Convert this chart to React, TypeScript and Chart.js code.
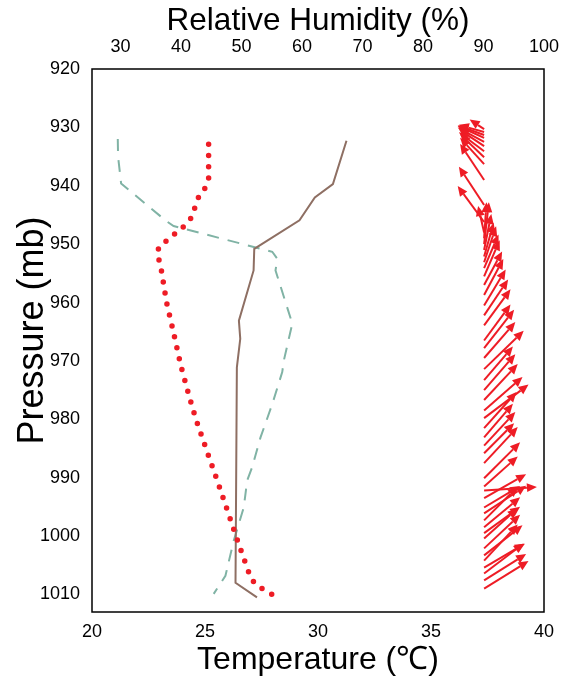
import React, { useEffect, useRef } from 'react';
import { Chart, registerables } from 'chart.js';

Chart.register(...registerables);

// Axis ticks
const pressureTicks = [920, 930, 940, 950, 960, 970, 980, 990, 1000, 1010];
const tempTicks = [20, 25, 30, 35, 40];
const rhTicks = [30, 40, 50, 60, 70, 80, 90, 100];

// Red dotted profile (temperature, °C)
const dotP = [932.9, 938.7, 940.4, 941.9, 945.5, 946.9, 949.3, 950.6, 952.2, 954, 960, 965, 970.8, 976.2, 980, 985.4, 990.8, 996.3, 1000, 1005.4, 1007.4, 1008.6, 1009.5, 1010.5];
const dotT = [25.16, 25.16, 25.0, 24.72, 24.39, 24.08, 23.33, 22.94, 22.93, 23.05, 23.3, 23.6, 23.93, 24.31, 24.6, 25.08, 25.57, 26.05, 26.37, 26.86, 27.05, 27.35, 27.76, 28.19];

// Brown solid profile (°C)
const solidP = [932.3, 939.7, 942.0, 945.9, 950.8, 954.5, 963.1, 966.2, 971.1, 1008, 1010.5];
const solidT = [31.26, 30.66, 29.86, 29.18, 27.18, 27.15, 26.5, 26.56, 26.41, 26.35, 27.3];

// Teal dashed profile (relative humidity, %)
const rhP = [932.0, 935.0, 939.6, 945.9, 946.9, 951.3, 952.5, 954.5, 963.6, 969.9, 971.9, 977.4, 983.1, 988.2, 990.5, 995.1, 1000.8, 1006.8, 1009.9];
const rhV = [29.56, 29.61, 30.11, 37.4, 38.78, 55.09, 55.92, 55.63, 58.4, 57.01, 56.74, 55.09, 53.15, 51.77, 50.94, 50.38, 48.72, 47.35, 45.41];

// Wind vectors (u east, v north, m/s)
const windP = [930.3, 930.8, 931.3, 931.8, 932.5, 933.2, 934.1, 935.1, 936.3, 939.0, 943.3, 946.2, 948.0, 949.0, 950.0, 951.0, 952.1, 953.1, 954.1, 955.5, 957.0, 958.7, 960.5, 962.2, 963.9, 966.5, 967.8, 969.5, 971.4, 973.3, 975.0, 976.7, 978.5, 979.8, 981.5, 983.1, 984.5, 985.8, 987.5, 990.1, 991.5, 992.2, 993.5, 995.1, 996.1, 997.3, 998.5, 999.5, 1000.4, 1002.1, 1003.3, 1004.2, 1005.4, 1006.4, 1007.6, 1009.0];
const windU = [-6, -10.5, -11, -11, -11, -10.5, -10.5, -10, -10, -10, -10.5, -11, -2.5, 1, 2, 3, 4, 5, 6, 6.5, 7.5, 8, 9, 10, 11, 11, 12.5, 13, 16.5, 12, 13, 14, 16, 18.5, 13.5, 12, 13, 12.5, 14, 15, 14, 22, 17.5, 15, 17.5, 14, 15, 15, 14, 15, 16, 14, 17, 16.5, 17.5, 18.5];
const windV = [4, 3, 4, 5, 6, 7, 8, 9.5, 11, 15, 16, 15, 11, 15, 17.5, 15, 14, 15, 14, 15, 14, 15, 15, 15, 15, 15, 16, 15, 16, 14, 15, 15, 14, 14, 15, 14, 14, 12.5, 15, 15, 12.5, 1.5, 10, 9, 11.5, 14, 12.5, 11, 12.5, 14, 12.5, 15, 10, 12.5, 11, 11.5];
const WIND_BASE_T = 37.35;
const ARROW_PX_PER_UNIT = 2.4;

const FONT = "'Liberation Sans', Arial, sans-serif";
const RED = '#ee1c25';
const BROWN = '#8e6f63';
const TEAL = '#80b3a5';

export default function App() {
  const ref = useRef<HTMLCanvasElement>(null);

  useEffect(() => {
    if (!ref.current) return;

    const framePlugin = {
      id: 'frame',
      afterDraw(chart: any) {
        const { ctx, chartArea: a } = chart;
        ctx.save();
        ctx.strokeStyle = '#000';
        ctx.lineWidth = 1.5;
        ctx.strokeRect(a.left, a.top, a.right - a.left, a.bottom - a.top);
        ctx.restore();
      },
    };

    const arrowPlugin = {
      id: 'windArrows',
      afterDatasetsDraw(chart: any) {
        const { ctx } = chart;
        const xs = chart.scales.x;
        const ys = chart.scales.y;
        ctx.save();
        ctx.strokeStyle = RED;
        ctx.fillStyle = RED;
        ctx.lineWidth = 2;
        ctx.lineCap = 'butt';
        for (let i = 0; i < windP.length; i++) {
          const x0 = xs.getPixelForValue(WIND_BASE_T);
          const y0 = ys.getPixelForValue(windP[i]);
          const x1 = x0 + windU[i] * ARROW_PX_PER_UNIT;
          const y1 = y0 - windV[i] * ARROW_PX_PER_UNIT;
          const ang = Math.atan2(y1 - y0, x1 - x0);
          const hl = 10;
          const hw = 4.5;
          const bx = x1 - hl * Math.cos(ang);
          const by = y1 - hl * Math.sin(ang);
          ctx.beginPath();
          ctx.moveTo(x0, y0);
          ctx.lineTo(bx, by);
          ctx.stroke();
          ctx.beginPath();
          ctx.moveTo(x1, y1);
          ctx.lineTo(bx + hw * Math.sin(ang), by - hw * Math.cos(ang));
          ctx.lineTo(bx - hw * Math.sin(ang), by + hw * Math.cos(ang));
          ctx.closePath();
          ctx.fill();
        }
        ctx.restore();
      },
    };

    const tickFont = { family: FONT, size: 18 };

    const noSidePad = (s: any) => { s.paddingLeft = 0; s.paddingRight = 0; };

    const chart = new Chart(ref.current, {
      type: 'scatter',
      data: {
        datasets: [
          {
            label: 'dotted',
            data: dotP.map((p, i) => ({ x: dotT[i], y: p })),
            showLine: true,
            borderColor: RED,
            borderWidth: 5.5,
            borderDash: [0, 11.2],
            borderCapStyle: 'round',
            pointRadius: 0,
            xAxisID: 'x',
            yAxisID: 'y',
            order: 0,
          },
          {
            label: 'solid',
            data: solidP.map((p, i) => ({ x: solidT[i], y: p })),
            showLine: true,
            borderColor: BROWN,
            borderWidth: 2,
            pointRadius: 0,
            xAxisID: 'x',
            yAxisID: 'y',
            order: 1,
          },
          {
            label: 'rh',
            data: rhP.map((p, i) => ({ x: rhV[i], y: p })),
            showLine: true,
            borderColor: TEAL,
            borderWidth: 2,
            borderDash: [12, 9],
            pointRadius: 0,
            xAxisID: 'x2',
            yAxisID: 'y',
            order: 2,
          },
        ],
      },
      options: {
        animation: false,
        responsive: false,
        devicePixelRatio: 1,
        layout: { padding: { left: 0, right: 19, top: 0, bottom: 0 } },
        plugins: { legend: { display: false }, tooltip: { enabled: false } },
        scales: {
          x: {
            type: 'linear',
            position: 'bottom',
            min: 20,
            max: 40,
            afterBuildTicks: (s: any) => { s.ticks = tempTicks.map((v) => ({ value: v })); },
            afterFit: (s: any) => { s.height = 67; noSidePad(s); },
            grid: { display: false, drawTicks: false },
            border: { display: false },
            ticks: { font: tickFont, color: '#000', padding: 9, maxRotation: 0, autoSkip: false, callback: (v: any) => String(v) },
            title: { display: true, text: 'Temperature (℃)', font: { family: FONT, size: 32 }, color: '#000', padding: { top: 0, bottom: 0 } },
          },
          x2: {
            type: 'linear',
            position: 'top',
            min: 25.3,
            max: 100,
            afterBuildTicks: (s: any) => { s.ticks = rhTicks.map((v) => ({ value: v })); },
            afterFit: (s: any) => { s.height = 69; noSidePad(s); },
            grid: { display: false, drawTicks: false },
            border: { display: false },
            ticks: { font: tickFont, color: '#000', padding: 11, maxRotation: 0, autoSkip: false, callback: (v: any) => String(v) },
            title: { display: true, text: 'Relative Humidity (%)', font: { family: FONT, size: 31.5 }, color: '#000', padding: { top: 2, bottom: 0 } },
          },
          y: {
            type: 'linear',
            position: 'left',
            reverse: true,
            min: 920,
            max: 1013,
            afterBuildTicks: (s: any) => { s.ticks = pressureTicks.map((v) => ({ value: v })); },
            afterFit: (s: any) => { s.width = 92; s.paddingTop = 0; s.paddingBottom = 0; },
            grid: { display: false, drawTicks: false },
            border: { display: false },
            ticks: { font: tickFont, color: '#000', padding: 12, autoSkip: false, callback: (v: any) => String(v) },
            title: { display: true, text: '  Pressure (mb)', font: { family: FONT, size: 36 }, color: '#000', padding: { top: 11.5, bottom: 0 } },
          },
        },
      },
      plugins: [arrowPlugin, framePlugin],
    } as any);

    return () => chart.destroy();
  }, []);

  return (
    <div style={{ position: 'fixed', left: 0, top: 0, width: 563, height: 679, background: '#fff', overflow: 'hidden' }}>
      <canvas ref={ref} width={563} height={679} />
    </div>
  );
}
